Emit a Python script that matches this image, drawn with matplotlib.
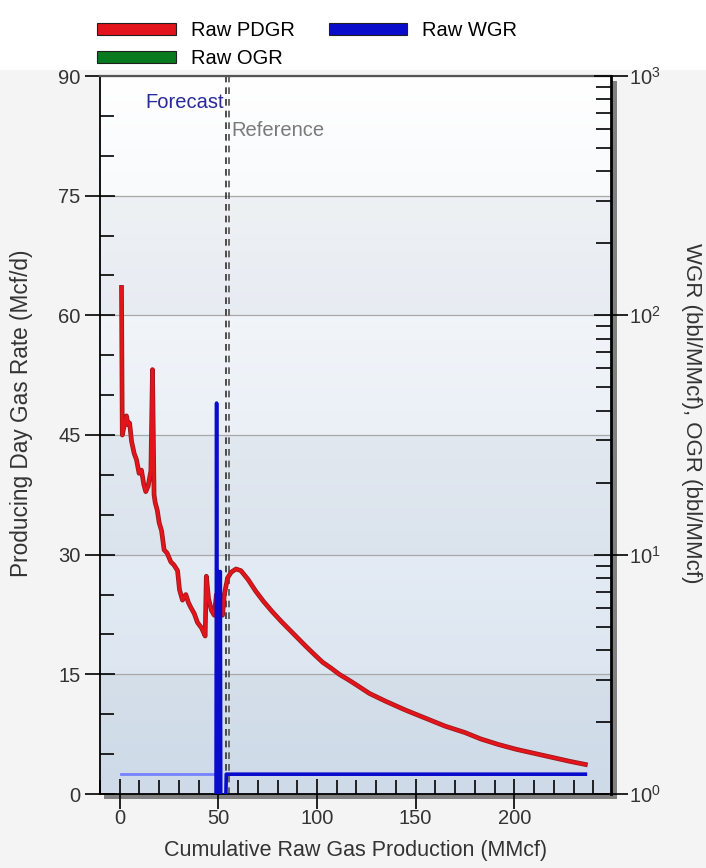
import numpy as np
import matplotlib
matplotlib.use("Agg")
import matplotlib.pyplot as plt
import matplotlib.patheffects as pe
from matplotlib.patches import Patch, Rectangle
from matplotlib.ticker import MultipleLocator, FixedLocator, LogLocator, NullFormatter

plt.rcParams['font.family'] = ['Liberation Sans', 'DejaVu Sans']
plt.rcParams['mathtext.default'] = 'regular'

# ---- data ----
pdgr_x = [0.9, 1.3, 2.3, 3.4, 4.2, 5.0, 6.0, 7.3, 8.5, 9.8, 11.0, 12.2, 13.2, 14.4, 15.8,
          16.6, 17.4, 18.0, 19.0, 20.0, 21.2, 22.5, 24.0, 25.9, 27.5, 29.3, 30.3, 31.8,
          33.5, 34.8, 36.0, 37.8, 39.4, 41.5, 43.3, 43.9, 45.0, 46.5, 47.9, 49.0, 50.4,
          51.5, 52.1, 53.0, 54.7, 56.5, 58.9, 61.4, 65, 69, 73, 77.5, 82, 86, 90, 94.4,
          99, 102.9, 107, 111.3, 116, 119.8, 126.6, 135, 145, 155, 165, 175, 183, 192,
          201, 210, 219, 228, 236]
pdgr_y = [63.5, 45.0, 46.2, 47.4, 46.3, 46.5, 44.2, 42.7, 41.9, 40.2, 40.6, 38.8, 37.9,
          38.6, 40.5, 53.2, 37.5, 36.5, 35.6, 34.0, 33.0, 30.6, 30.2, 29.1, 28.7, 28.0,
          25.6, 24.3, 25.0, 24.0, 23.4, 22.6, 21.5, 20.8, 19.8, 27.3, 24.5, 23.0, 22.4,
          25.0, 24.1, 22.6, 22.4, 25.0, 27.1, 27.8, 28.2, 28.0, 26.9, 25.4, 24.1, 22.8,
          21.6, 20.6, 19.6, 18.5, 17.4, 16.5, 15.8, 15.0, 14.3, 13.7, 12.6, 11.6, 10.5,
          9.5, 8.5, 7.7, 6.9, 6.2, 5.6, 5.1, 4.6, 4.1, 3.7]

wgr_hist_x = [0.5, 48.6]
wgr_hist_y = [1.21, 1.21]
wgr_x = [48.8, 49.1, 49.4, 49.8, 50.2, 50.6, 51.0, 51.2, 53.6, 54.0, 236]
wgr_y = [0.8, 43.0, 0.8, 8.5, 8.5, 8.4, 8.5, 0.8, 0.8, 1.21, 1.21]

forecast_x = 53.9
reference_x = 55.3

legend_labels = ['Raw PDGR', 'Raw OGR', 'Raw WGR']
legend_colors = ['#e3141b', '#0a7a1e', '#0a0ccc']

x_ticks = [0, 50, 100, 150, 200]
y_ticks = [0, 15, 30, 45, 60, 75, 90]

# ---- figure ----
W, H = 706, 868
fig = plt.figure(figsize=(W / 100, H / 100), dpi=100, facecolor='#f4f4f4')
fig.patches.append(Rectangle((0, 1 - 70 / H), 1, 70 / H, transform=fig.transFigure,
                             facecolor='white', edgecolor='none', zorder=-5))

L, R, T, B = 100, 611, 76, 794
ax = fig.add_axes([L / W, 1 - B / H, (R - L) / W, (B - T) / H])

# drop shadow of the plot frame
fig.patches.append(Rectangle(((L + 4) / W, 1 - (B + 5) / H), (R - L + 2) / W, (B - T) / H,
                             transform=fig.transFigure, facecolor='#808080',
                             edgecolor='none', zorder=-1))

ax.set_xlim(-10, 249)
ax.set_ylim(0, 90)

# background: vertical gradient plus alternating bands
grad = np.linspace(0, 1, 256).reshape(-1, 1)
cmap = matplotlib.colors.LinearSegmentedColormap.from_list('bg', ['#ffffff', '#d6e1ee'])
ax.imshow(grad, extent=[0, 1, 0, 1], transform=ax.transAxes, cmap=cmap,
          aspect='auto', origin='upper', zorder=0)
for lo in (0, 30, 60):
    ax.axhspan(lo, lo + 15, color='#8898ad', alpha=0.09, lw=0, zorder=0.5)

ax.yaxis.set_major_locator(FixedLocator(y_ticks))
ax.yaxis.set_minor_locator(MultipleLocator(5))
ax.xaxis.set_major_locator(FixedLocator(x_ticks))
ax.xaxis.set_minor_locator(MultipleLocator(10))
ax.grid(axis='y', which='major', color='#a8a8a8', lw=0.9, zorder=1)

ax.axvline(forecast_x, color='#303030', lw=1.2, ls=(0, (4, 3)), zorder=2)
ax.axvline(reference_x, color='#505050', lw=1.2, ls=(0, (4, 3)), zorder=2)
ax.text(forecast_x - 1.2, 86.7, 'Forecast', color='#2a2a9c', fontsize=14.5,
        ha='right', va='center', zorder=3)
ax.text(reference_x + 1.2, 83.2, 'Reference', color='#7a7a7a', fontsize=14.5,
        ha='left', va='center', zorder=3)

ax.plot(pdgr_x, pdgr_y, color='#e3141b', lw=2.2, zorder=4,
        path_effects=[pe.Stroke(linewidth=3.4, foreground='#9c1a1a'), pe.Normal()])

ax.tick_params(axis='both', which='major', direction='inout', length=22, width=1.2,
               labelsize=14.5, labelcolor='#333333', pad=3)
ax.tick_params(axis='x', which='major', pad=0)
ax.tick_params(axis='both', which='minor', direction='in', length=10, width=1.2)
ax.tick_params(axis='y', which='both', right=False)
ax.tick_params(axis='x', which='both', top=False)
ax.set_xlabel('Cumulative Raw Gas Production (MMcf)', fontsize=15.5, color='#333333',
              va='center')
ax.set_ylabel('Producing Day Gas Rate (Mcf/d)', fontsize=16.3, color='#333333',
              va='center')
ax.xaxis.set_label_coords(0.5, -0.078)
ax.yaxis.set_label_coords(-0.153, 0.53)
for s in ('left', 'bottom'):
    ax.spines[s].set_color('black')
    ax.spines[s].set_linewidth(1.3)
ax.spines['top'].set_color('#555555')
ax.spines['top'].set_linewidth(1.6)
ax.spines['right'].set_visible(False)

ax2 = ax.twinx()
ax2.set_yscale('log')
ax2.set_ylim(1, 1000)
ax2.plot(wgr_hist_x, wgr_hist_y, color='#7582ff', lw=2.0, zorder=3)
ax2.plot(wgr_x, wgr_y, color='#0a0ccc', lw=2.6, zorder=4)
ax2.yaxis.set_major_locator(LogLocator(base=10, numticks=5))
ax2.yaxis.set_minor_locator(LogLocator(base=10, subs=np.arange(2, 10), numticks=20))
ax2.yaxis.set_minor_formatter(NullFormatter())
ax2.tick_params(axis='y', which='major', direction='inout', length=24, width=1.2,
                labelsize=14.5, labelcolor='#333333', pad=1)
ax2.tick_params(axis='y', which='minor', direction='in', length=11, width=1.2)
ax2.spines['right'].set_color('black')
ax2.spines['right'].set_linewidth(2.0)
for s in ('left', 'bottom', 'top'):
    ax2.spines[s].set_visible(False)
ax2.set_ylabel('WGR (bbl/MMcf), OGR (bbl/MMcf)', fontsize=16.0, color='#333333',
               rotation=270, va='center')
ax2.yaxis.set_label_coords(1.157, 0.53)

handles = [Patch(facecolor=c, edgecolor='#202020', lw=0.8) for c in legend_colors]
fig.legend(handles, legend_labels, ncol=2, loc='upper left',
           bbox_to_anchor=(97 / W, 1 - 21 / H), frameon=False, fontsize=14.5,
           handlelength=3.9, handleheight=0.5, handletextpad=0.75,
           columnspacing=1.7, labelspacing=0.45, borderaxespad=0, borderpad=0)

fig.savefig('out.png', dpi=100, facecolor=fig.get_facecolor())
